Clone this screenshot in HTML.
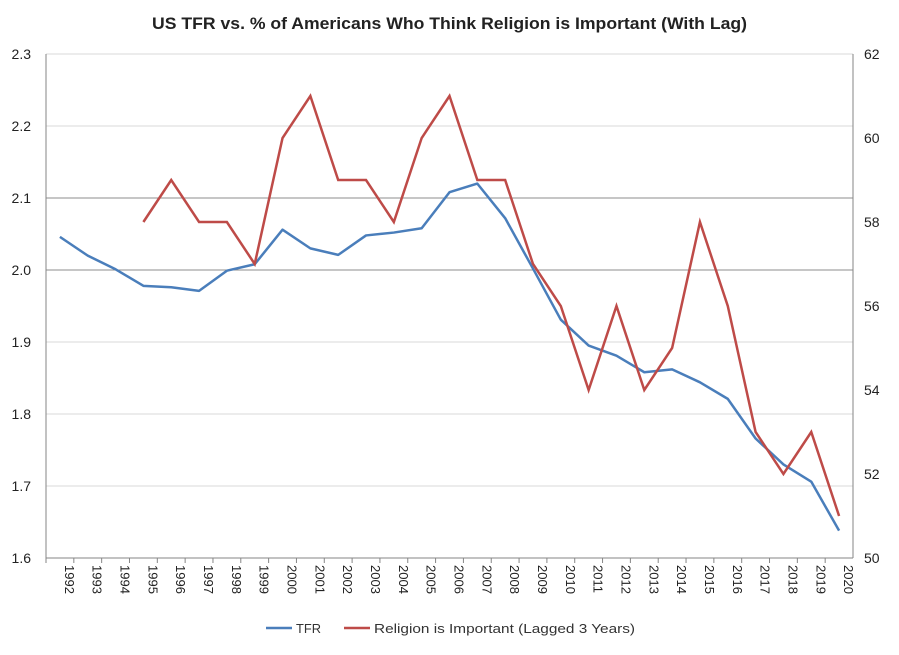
<!DOCTYPE html>
<html><head><meta charset="utf-8"><style>
body{margin:0;background:#fff;font-family:"Liberation Sans",Calibri,sans-serif}
</style></head><body>
<svg id="c" width="899" height="650" xmlns="http://www.w3.org/2000/svg" font-family="Liberation Sans, sans-serif">
<text x="152" y="29" textLength="595" lengthAdjust="spacingAndGlyphs" font-size="17" font-weight="bold" fill="#222">US TFR vs. % of Americans Who Think Religion is Important (With Lag)</text>
<g id="grid"></g><g id="axes"></g><g id="series"></g>
<g>
<line x1="266" y1="628" x2="292" y2="628" stroke="#4a7ebb" stroke-width="2.5"/>
<text x="296" y="633" font-size="13" fill="#333" textLength="25" lengthAdjust="spacingAndGlyphs">TFR</text>
<line x1="344" y1="628" x2="370" y2="628" stroke="#be4b48" stroke-width="2.5"/>
<text x="374" y="633" font-size="13" fill="#333" textLength="261" lengthAdjust="spacingAndGlyphs">Religion is Important (Lagged 3 Years)</text>
</g>
</svg>
<script>
const years=[1992,1993,1994,1995,1996,1997,1998,1999,2000,2001,2002,2003,2004,2005,2006,2007,2008,2009,2010,2011,2012,2013,2014,2015,2016,2017,2018,2019,2020];
const tfr=[2.046,2.020,2.001,1.978,1.976,1.971,1.999,2.008,2.056,2.030,2.021,2.048,2.052,2.058,2.108,2.120,2.072,2.002,1.931,1.895,1.881,1.858,1.862,1.844,1.821,1.766,1.730,1.706,1.638];
const religion=[null,null,null,58,59,58,58,57,60,61,59,59,58,60,61,59,59,57,56,54,56,54,55,58,56,53,52,53,51];
const leftTicks=[1.6,1.7,1.8,1.9,2.0,2.1,2.2,2.3];
const rightTicks=[50,52,54,56,58,60,62];
const L=46,R=853,T=54,B=558;
const NS="http://www.w3.org/2000/svg";
const bw=(R-L)/years.length;
const x=i=>L+bw*(i+0.5);
const yL=v=>B-(v-1.6)/0.7*(B-T);
const yR=v=>B-(v-50)/12*(B-T);
function mk(tag,attrs,parent){const e=document.createElementNS(NS,tag);for(const k in attrs)e.setAttribute(k,attrs[k]);document.getElementById(parent).appendChild(e);return e;}
leftTicks.forEach(v=>{
  const dark=Math.abs(v-2.0)<1e-6||Math.abs(v-2.1)<1e-6;
  if(v>1.6){const g=mk('line',{x1:L,x2:R,y1:yL(v),y2:yL(v),stroke:dark?'#8c8c8c':'#d9d9d9','stroke-width':1},'grid');
  
  }
  const t=mk('text',{x:L-15,y:yL(v)+5,'text-anchor':'end','font-size':14,fill:'#222'},'axes');t.textContent=v.toFixed(1);
  
  
});
rightTicks.forEach(v=>{
  const t=mk('text',{x:R+11,y:yR(v)+5,'font-size':14,fill:'#222'},'axes');t.textContent=v;
  
  
});
let a=mk('line',{x1:L,x2:L,y1:T,y2:B,stroke:'#868686'},'axes');


a=mk('line',{x1:R,x2:R,y1:T,y2:B,stroke:'#868686'},'axes');


a=mk('line',{x1:L,x2:R,y1:B,y2:B,stroke:'#868686'},'axes');


years.forEach((yr,i)=>{
  const tk=mk('line',{x1:L+bw*i,x2:L+bw*i,y1:B,y2:B+5,stroke:'#868686'},'axes');
  
  
  const t=mk('text',{x:0,y:0,'font-size':13,fill:'#222',transform:`translate(${x(i)+5},${B+7}) rotate(90)`},'axes');t.textContent=yr;
  
  
});
let p=tfr.map((v,i)=>`${i?'L':'M'}${x(i)},${yL(v)}`).join('');
let s=mk('path',{d:p,fill:'none',stroke:'#4a7ebb','stroke-width':2.5,'stroke-linejoin':'round'},'series');


let first=true;p='';
religion.forEach((v,i)=>{if(v==null)return;p+=`${first?'M':'L'}${x(i)},${yR(v)}`;first=false;});
s=mk('path',{d:p,fill:'none',stroke:'#be4b48','stroke-width':2.5,'stroke-linejoin':'miter'},'series');


</script>
</body></html>
